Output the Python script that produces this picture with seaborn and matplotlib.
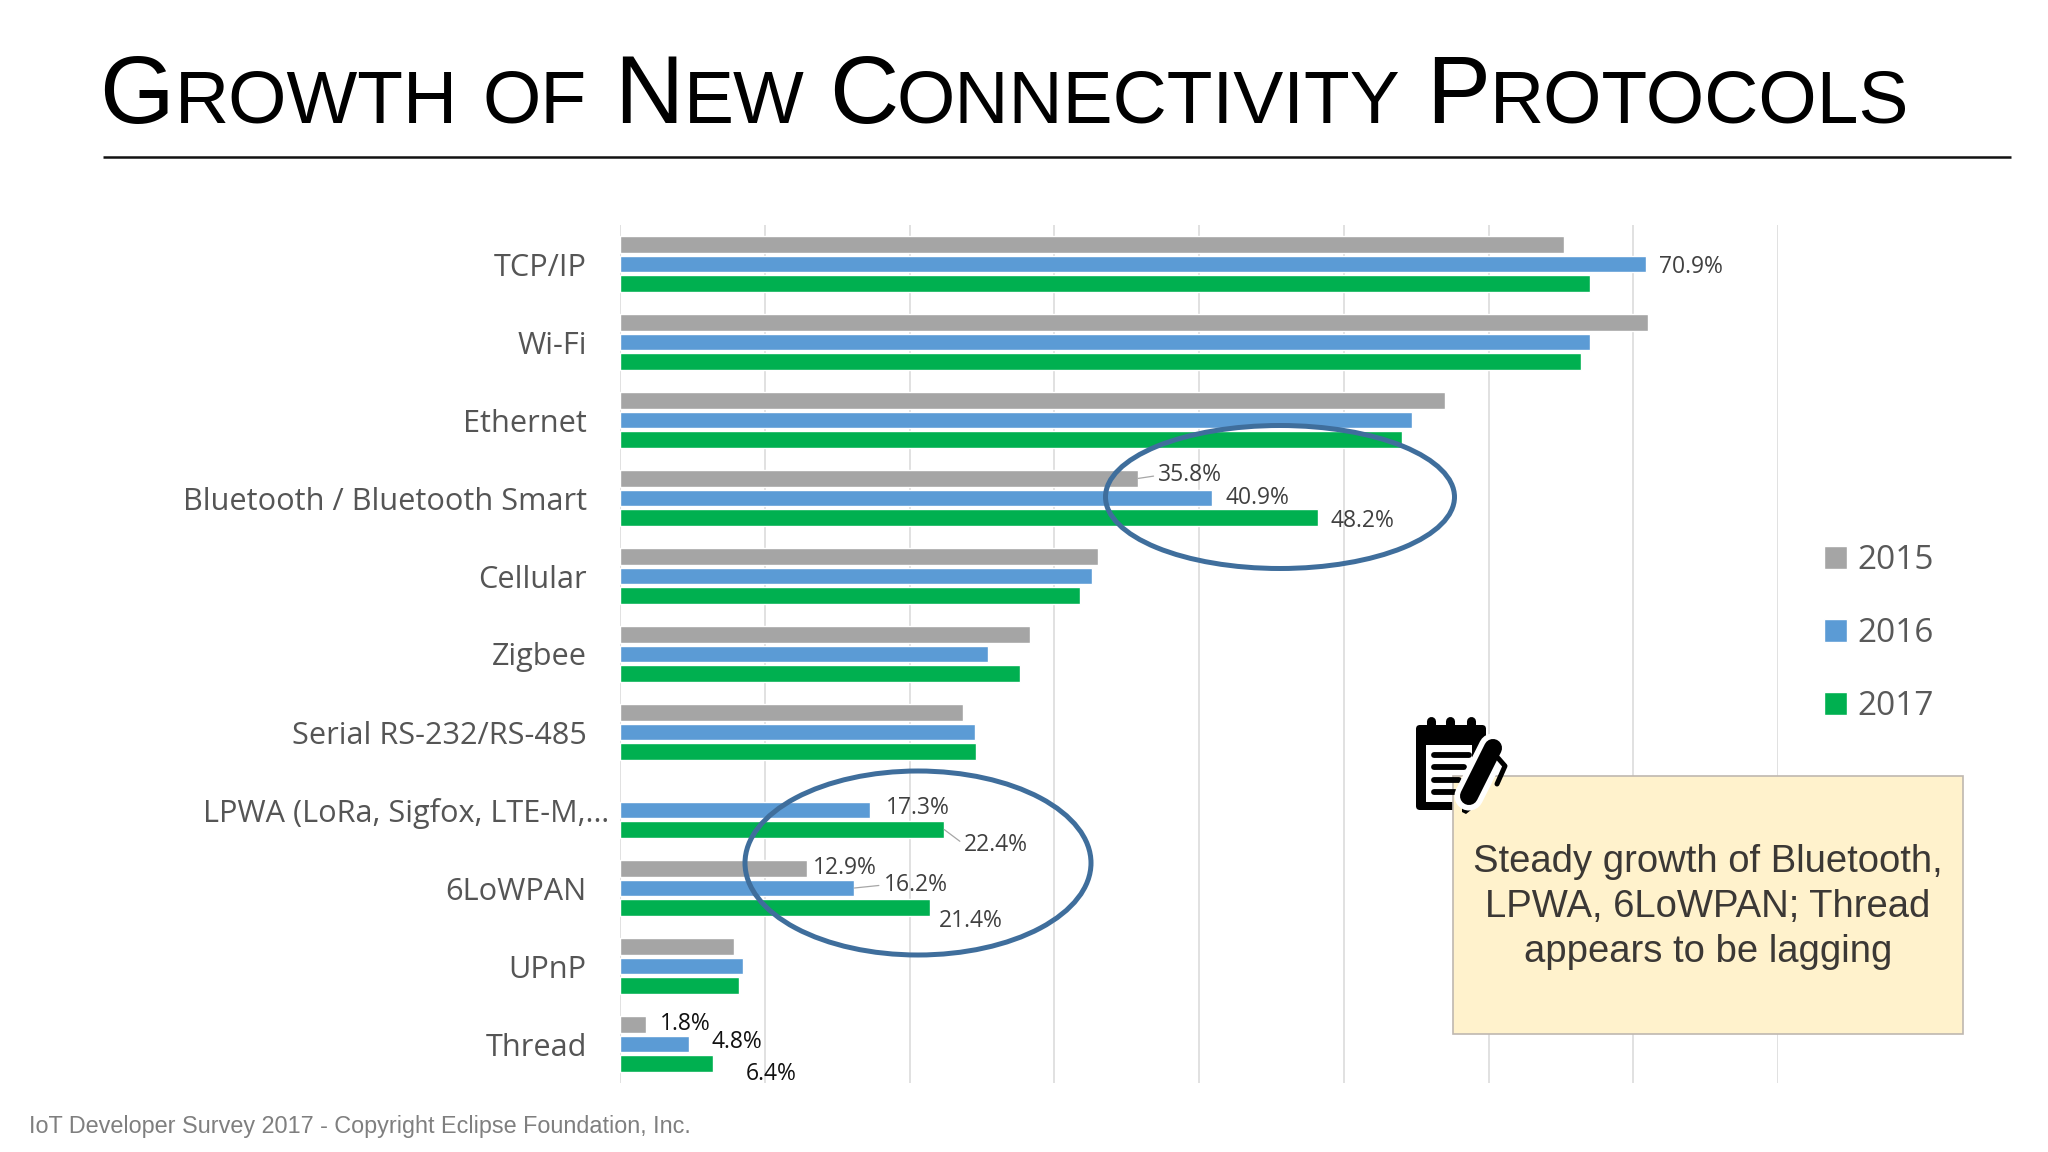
import numpy as np
import pandas as pd
import matplotlib
matplotlib.use("Agg")
import matplotlib.pyplot as plt
import seaborn as sns
from matplotlib.patches import Ellipse, FancyBboxPatch, Polygon, Rectangle

# values (percent of respondents)
protocolos = ["TCP/IP", "Wi-Fi", "Ethernet", "Bluetooth / Bluetooth Smart", "Cellular", "Zigbee",
              "Serial RS-232/RS-485", "LPWA (LoRa, Sigfox, LTE-M,…", "6LoWPAN", "UPnP", "Thread"]
anos = ["2015", "2016", "2017"]
valores_2015 = [65.2, 71.0, 57.0, 35.8, 33.0, 28.3, 23.7, np.nan, 12.9, 7.9, 1.8]
valores_2016 = [70.9, 67.0, 54.7, 40.9, 32.6, 25.4, 24.5, 17.3, 16.2, 8.5, 4.8]
valores_2017 = [67.0, 66.4, 54.0, 48.2, 31.8, 27.6, 24.6, 22.4, 21.4, 8.2, 6.4]
cores = ["#A5A5A5", "#5B9BD5", "#00B050"]
titulo = [("G", 99, 69), ("ROWTH", 175, 54), ("OF", 483, 54), ("N", 614, 69), ("EW", 684, 54),
          ("C", 829, 69), ("ONNECTIVITY", 896, 54), ("P", 1426, 69), ("ROTOCOLS", 1490, 54)]
nota = "Steady growth of Bluetooth,\nLPWA, 6LoWPAN; Thread\nappears to be lagging"
rodape = "IoT Developer Survey 2017 - Copyright Eclipse Foundation, Inc."

# (protocolo, ano) -> deslocamento do rotulo em px e se tem linha de chamada
rotulos = {
    (0, 1): (13, -3, False), (3, 0): (20, 3, True), (3, 1): (13, 0, False), (3, 2): (13, -3, False),
    (7, 1): (16, 2, False), (7, 2): (20, -15, True), (8, 0): (6, 0, False), (8, 1): (29, 3, True),
    (8, 2): (9, -13, False), (10, 0): (14, 0, False), (10, 1): (22, 2, False), (10, 2): (33, -10, False),
}

dados = pd.DataFrame({"protocolo": protocolos, "2015": valores_2015, "2016": valores_2016, "2017": valores_2017})
dados = dados.melt(id_vars="protocolo", value_vars=anos, var_name="ano", value_name="valor")

sns.set_theme(style="white")
plt.rcParams["font.family"] = ["Open Sans", "DejaVu Sans"]

fig = plt.figure(figsize=(20.48, 11.52), dpi=100, facecolor="white")
ax = fig.add_axes([620 / 2048, 1 - 1083 / 1152, (1778 - 620) / 2048, (1083 - 225) / 1152])

sns.barplot(data=dados, y="protocolo", x="valor", hue="ano", hue_order=anos, order=protocolos,
            palette=cores, saturation=1, width=0.753, gap=0.17, orient="h", ax=ax)

ax.set_xlim(0, 80)
ax.set_ylim(len(protocolos) - 0.5, -0.5)
ax.set_xticks(np.arange(0, 81, 10))
ax.set_xticklabels([])
ax.set_xlabel("")
ax.set_ylabel("")
ax.set_axisbelow(True)
ax.grid(axis="x", color="#D9D9D9", linewidth=1.1)
sns.despine(ax=ax, left=True, bottom=True)
ax.tick_params(axis="y", length=0, pad=24, labelsize=22.1, labelcolor="#555555")
ax.tick_params(axis="x", length=0)
# o rotulo do LPWA passa do alinhamento dos outros
ax.yaxis.get_major_ticks()[7].set_pad(7.5)

sns.move_legend(ax, loc="upper left", bbox_to_anchor=(1824 / 2048, 1 - 544 / 1152), bbox_transform=fig.transFigure,
                title=None, frameon=False, fontsize=24, labelcolor="#595959", handlelength=0.68,
                handleheight=0.68, handletextpad=0.33, labelspacing=1.2, borderpad=0, borderaxespad=0)

for i, barras in enumerate(ax.containers):
    for barra in barras:
        linha = int(round(barra.get_y() + barra.get_height() / 2))
        if (linha, i) not in rotulos:
            continue
        dx, dy, chamada = rotulos[(linha, i)]
        seta = dict(arrowstyle="-", color="#A6A6A6", lw=0.9, shrinkA=1, shrinkB=0, relpos=(0, 0.5)) if chamada else None
        ax.annotate(f"{barra.get_width():.1f}%", xy=(barra.get_width(), barra.get_y() + barra.get_height() / 2),
                    xytext=(dx, dy), textcoords="offset pixels", ha="left", va="center", fontsize=16.5,
                    color="#111111" if linha == 10 else "#404040", arrowprops=seta, annotation_clip=False)

# camada em pixels para titulo, circulos, caixa e icone
top = fig.add_axes([0, 0, 1, 1], zorder=5)
top.set_xlim(0, 2048)
top.set_ylim(1152, 0)
top.axis("off")

for texto, x, tam in titulo:
    top.text(x, 122.7, texto, fontsize=tam, family="Liberation Sans", color="black", ha="left", va="baseline")
top.plot([103, 2011], [156.7, 156.7], color="#111111", lw=1.8, solid_capstyle="butt")

top.add_patch(Ellipse((1280, 497), 349, 143, fill=False, ec="#3F6E9C", lw=3.6))
top.add_patch(Ellipse((918, 863), 346, 184, fill=False, ec="#3F6E9C", lw=3.6))

# icone do bloco de notas
for x in [1430.6, 1450, 1471]:
    top.plot([x, x], [721, 730], color="black", lw=6.5, solid_capstyle="round")
top.add_patch(FancyBboxPatch((1418, 727), 66, 81, boxstyle="round,pad=2,rounding_size=4", fc="black", ec="none"))
top.add_patch(Rectangle((1425.5, 745), 46, 57, fc="white", ec="none"))
for y, fim in zip([755, 767, 780, 792], [1469, 1464, 1459, 1455]):
    top.plot([1434, fim], [y, y], color="black", lw=4.2, solid_capstyle="round")

top.add_patch(Rectangle((1453, 776), 510, 258, fc="#FFF2CC", ec="#BFB8B0", lw=1.2))
top.text(1708, 907, nota, ha="center", va="center", fontsize=27.5, family="Liberation Sans",
         color="#3B3835", linespacing=1.33)

top.plot([1469, 1493], [796, 748], color="white", lw=21, solid_capstyle="round")
top.plot([1469, 1493], [796, 748], color="black", lw=13, solid_capstyle="round")
top.add_patch(Polygon([[1462, 795], [1481, 802], [1466, 814], [1462, 812]], fc="black", ec="none"))
top.plot([1498, 1505, 1497], [758, 766, 784], color="black", lw=3.6, solid_capstyle="round")

top.text(29, 1127, rodape, fontsize=16.87, family="Liberation Sans", color="#7F7F7F", ha="left", va="center")

fig.savefig("out.png", dpi=100)
